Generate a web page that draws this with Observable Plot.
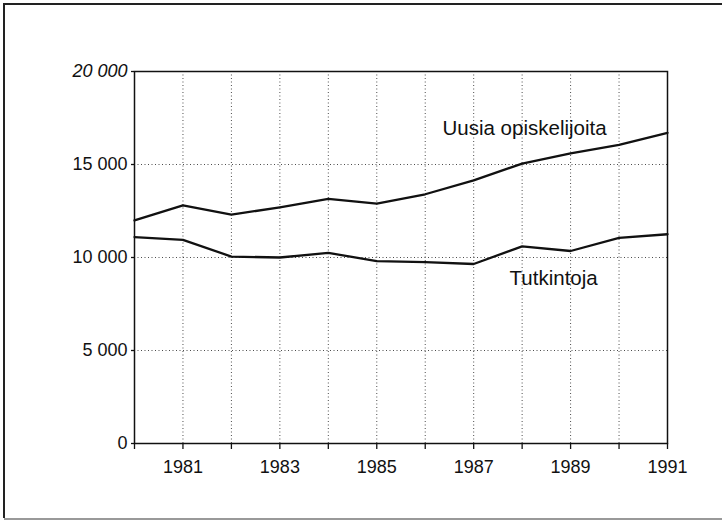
<!DOCTYPE html>
<html>
<head>
<meta charset="utf-8">
<script src="https://cdn.jsdelivr.net/npm/d3@7"></script>
<script src="https://cdn.jsdelivr.net/npm/@observablehq/plot@0.6"></script>
<style>
  html, body { margin: 0; padding: 0; background: #fff; }
  #wrap { position: relative; width: 725px; height: 521px; overflow: hidden; }
  #wrap svg { position: absolute; left: 0; top: 0; }
  .bt { position: absolute; left: 4px; top: 3px; width: 718px; height: 0; border-top: 2px solid #222; }
  .bl { position: absolute; left: 3px; top: 3px; width: 0; height: 515px; border-left: 2px solid #222; }
  .bb { position: absolute; left: 4px; top: 518px; width: 718px; height: 0; border-top: 2px solid #999; }
</style>
</head>
<body>
<div id="wrap"><div class="bt"></div><div class="bl"></div><div class="bb"></div></div>
<script>
// Data
const years = [1980, 1981, 1982, 1983, 1984, 1985, 1986, 1987, 1988, 1989, 1990, 1991];
const uusiaOpiskelijoita = [12000, 12800, 12300, 12700, 13150, 12900, 13400, 14150, 15050, 15600, 16050, 16700];
const tutkintoja = [11100, 10950, 10050, 10000, 10250, 9800, 9750, 9650, 10600, 10350, 11050, 11250];
const xTickLabels = [1981, 1983, 1985, 1987, 1989, 1991];
const yTicks = [0, 5000, 10000, 15000, 20000];
const seriesNames = ["Uusia opiskelijoita", "Tutkintoja"];
const labelYears = [1988.05, 1988.65];
const labelValues = [16950, 8850];

const rows = [];
years.forEach((yr, i) => {
  rows.push({year: yr, value: uusiaOpiskelijoita[i], series: seriesNames[0]});
  rows.push({year: yr, value: tutkintoja[i], series: seriesNames[1]});
});
const labels = seriesNames.map((s, i) => ({text: s, year: labelYears[i], value: labelValues[i]}));

const fmt = d => d >= 1000 ? `${Math.floor(d / 1000)} ${String(d % 1000).padStart(3, "0")}` : String(d);

const chart = Plot.plot({
  width: 725,
  height: 521,
  marginLeft: 134,
  marginRight: 58,
  marginTop: 71,
  marginBottom: 78,
  style: {fontFamily: "'Liberation Sans', Arial, Helvetica, sans-serif", fontSize: "18px", background: "transparent", color: "#111"},
  x: {domain: [1980, 1991]},
  y: {domain: [0, 20000]},
  marks: [
    Plot.gridX(years.slice(1, -1), {stroke: "#000", strokeOpacity: 0.7, strokeDasharray: "1,2.5"}),
    Plot.gridY(yTicks.slice(1, -1), {stroke: "#000", strokeOpacity: 0.7, strokeDasharray: "1,2.5"}),
    Plot.axisX(years, {tickSize: 6, tickFormat: () => "", label: null, strokeWidth: 1.3}),
    Plot.axisX(xTickLabels, {tickSize: 0, tickPadding: 17, tickFormat: d => String(d), label: null, fontSize: 18}),
    Plot.axisY(yTicks, {tickSize: 3, tickPadding: 4, tickFormat: fmt, label: null, fontSize: 18, strokeWidth: 1.3}),
    Plot.frame({stroke: "#111", strokeWidth: 1.5}),
    Plot.line(rows, {x: "year", y: "value", z: "series", stroke: "#111", strokeWidth: 2.3}),
    Plot.text(labels, {x: "year", y: "value", text: "text", fontSize: 20.5, fill: "#111"})
  ]
});
document.getElementById("wrap").appendChild(chart);
// top tick label appears italic in the reference
d3.select(chart).selectAll("text").filter(function () { return this.textContent === "20 000"; })
  .style("font-style", "italic");
</script>
</body>
</html>
